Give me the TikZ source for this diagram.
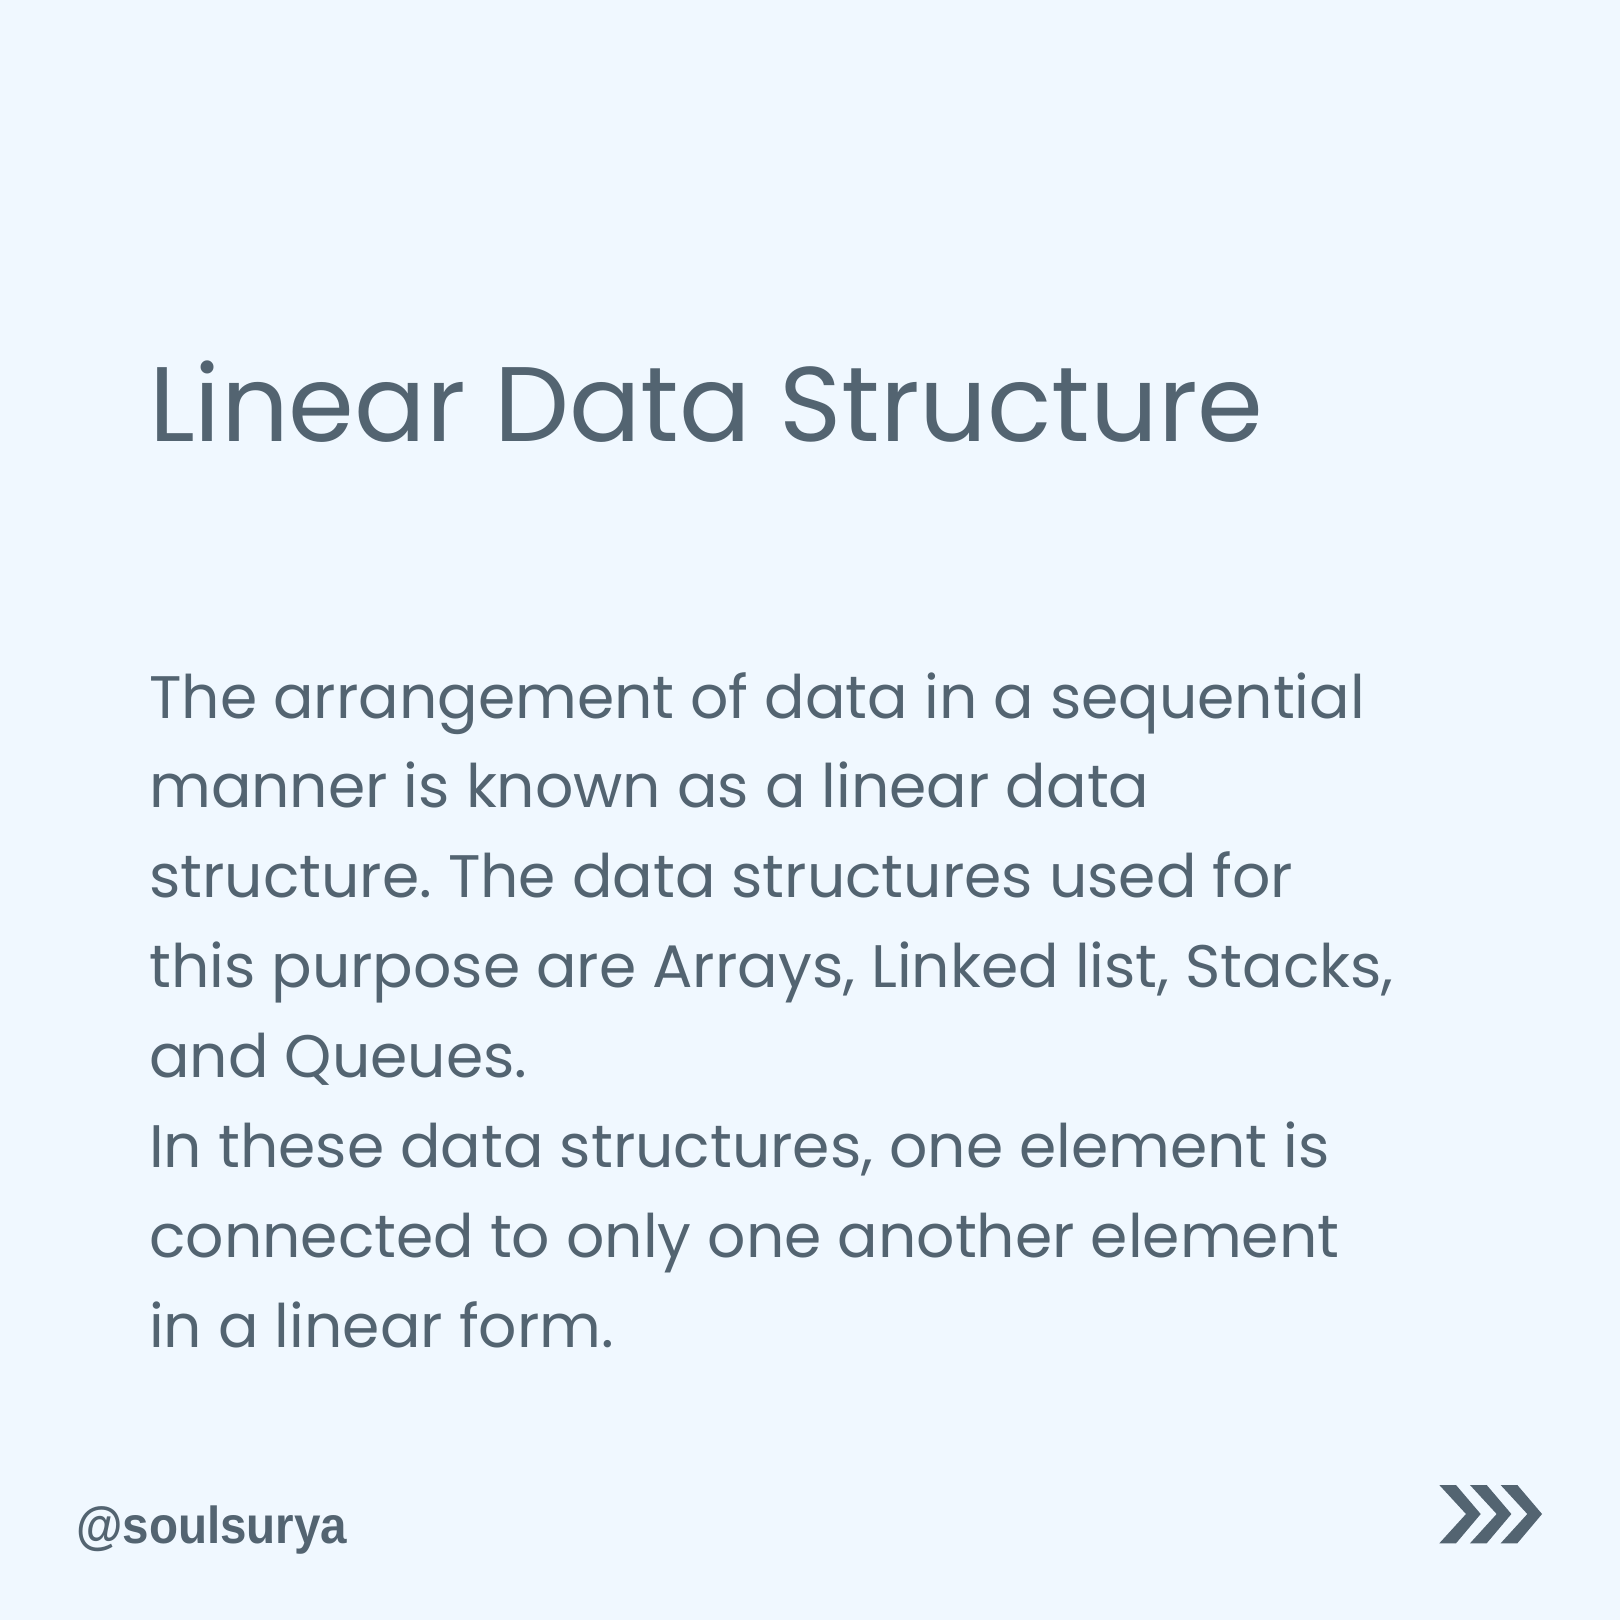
\documentclass[tikz,border=0pt]{standalone}
\usepackage{fontspec}
\setmainfont{Poppins}
\newfontfamily\handlefont{Liberation Sans}
\usetikzlibrary{positioning}
\frenchspacing

\definecolor{slate}{HTML}{536471}
\definecolor{paper}{HTML}{F0F8FF}

\tikzset{
  headline/.style={anchor=base west,inner sep=0pt,font=\fontsize{106}{106}\selectfont},
  bodyline/.style={anchor=base west,inner sep=0pt,font=\fontsize{60}{90}\selectfont},
  handle/.style={anchor=base west,inner sep=0pt,font=\handlefont\bfseries\fontsize{52}{52}\selectfont},
  chevron/.style={fill=slate,draw=none}
}

\begin{document}
\begin{tikzpicture}[x=1pt,y=-1pt,text=slate]
    \fill[paper] (0,0) rectangle (1620,1620);
    \node[headline] (head) at (149,441) {Linear Data Structure};
    \foreach \txt [count=\i] in {
        {The arrangement of data in a sequential},
        {manner is known as a linear data},
        {structure. The data structures used for},
        {this purpose are Arrays, Linked list, Stacks,},
        {and Queues.},
        {In these data structures, one element is},
        {connected to only one another element},
        {in a linear form.}}
      \node[bodyline] (line\i) at (149,{718+89.9*(\i-1)}) {\txt};
    \node[handle] (tag) at (76,1543) {\scalebox{0.915}[1]{@soulsurya}};
    % next page arrows
    \foreach \d in {0,30.67,61.33}
      \fill[chevron] ({1439.3+\d},1485) -- ({1456+\d},1485) -- ({1480.7+\d},1514)
        -- ({1456+\d},1543.3) -- ({1439.3+\d},1543.3) -- ({1466+\d},1514) -- cycle;
\end{tikzpicture}
\end{document}
